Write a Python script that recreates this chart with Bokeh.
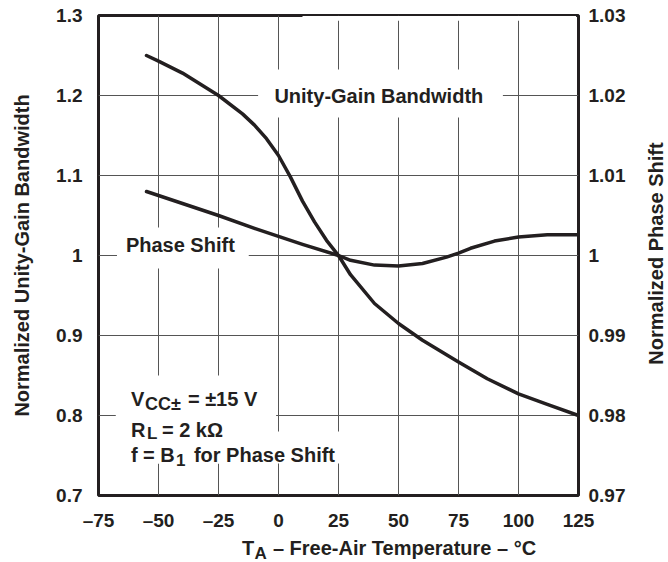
import math
from bokeh.plotting import figure
from bokeh.layouts import row, column
from bokeh.models import (Range1d, LinearAxis, FixedTicker, Label, BoxAnnotation)
from bokeh.embed import file_html
from bokeh.resources import INLINE

# ---------------- data ----------------
ugb_temp = [-55, -50, -40, -25, -15, -10, -5, 0, 5, 10, 15, 20, 25, 30, 40, 50, 60, 75, 87, 100, 112, 125]
ugb_norm = [1.250, 1.243, 1.228, 1.200, 1.177, 1.163, 1.146, 1.125, 1.098, 1.068, 1.042, 1.019,
            1.000, 0.976, 0.940, 0.915, 0.894, 0.867, 0.846, 0.827, 0.814, 0.800]

ps_temp = [-55, -40, -25, -10, 0, 10, 25, 30, 40, 50, 60, 70, 75, 80, 90, 100, 112, 125]
ps_norm = [1.0080, 1.0065, 1.0050, 1.0034, 1.0024, 1.0014, 1.0000, 0.9994, 0.9988, 0.9987,
           0.9990, 0.9998, 1.0003, 1.0009, 1.0018, 1.0023, 1.0026, 1.0026]

x_ticks = [-75, -50, -25, 0, 25, 50, 75, 100, 125]
x_tick_labels = ["\u201375", "\u201350", "\u201325", "0", "25", "50", "75", "100", "125"]
yl_ticks = [0.7, 0.8, 0.9, 1.0, 1.1, 1.2, 1.3]
yl_tick_labels = ["0.7", "0.8", "0.9", "1", "1.1", "1.2", "1.3"]
yr_ticks = [0.97, 0.98, 0.99, 1.0, 1.01, 1.02, 1.03]
yr_tick_labels = ["0.97", "0.98", "0.99", "1", "1.01", "1.02", "1.03"]

FONT = "Liberation Sans"
INK = "#231f20"
GRID = "#555555"

MAIN_W, MAIN_H = 636, 534
p = figure(width=MAIN_W, height=MAIN_H, output_backend="svg", toolbar_location=None,
           x_range=Range1d(-75, 125), y_range=Range1d(0.7, 1.3),
           min_border_left=98, min_border_right=58, min_border_top=15, min_border_bottom=39)
p.extra_y_ranges = {"ps": Range1d(0.97, 1.03)}
p.background_fill_color = "white"
p.border_fill_color = "white"
p.outline_line_color = INK
p.outline_line_width = 3

def style_axis(ax, ticks, labels, standoff):
    ax.ticker = FixedTicker(ticks=ticks)
    ax.major_label_overrides = dict(zip(ticks, labels))
    ax.major_tick_line_color = None
    ax.minor_tick_line_color = None
    ax.major_tick_in = 0
    ax.major_tick_out = 0
    ax.axis_line_color = None
    ax.major_label_standoff = standoff
    ax.major_label_text_font = FONT
    ax.major_label_text_font_style = "bold"
    ax.major_label_text_font_size = "19px"
    ax.major_label_text_color = INK

style_axis(p.xaxis[0], x_ticks, x_tick_labels, 14)
style_axis(p.yaxis[0], yl_ticks, yl_tick_labels, 16)
ya = p.yaxis[0]
ya.axis_label = "Normalized Unity-Gain Bandwidth"
ya.axis_label_standoff = 20
ya.axis_label_text_font = FONT
ya.axis_label_text_font_style = "bold"
ya.axis_label_text_font_size = "20px"
ya.axis_label_text_color = INK

right = LinearAxis(y_range_name="ps")
style_axis(right, yr_ticks, yr_tick_labels, 10)
p.add_layout(right, "right")

p.xgrid.ticker = FixedTicker(ticks=x_ticks)
p.ygrid.ticker = FixedTicker(ticks=yl_ticks)
for g in (p.xgrid[0], p.ygrid[0]):
    g.grid_line_color = GRID
    g.grid_line_width = 1

# white masks behind the in-plot texts (break the grid like the original)
for (l, r_, b, t) in [(-8.5, 93.5, 1.1725, 1.2325),
                      (-67.3, -12.4, 0.98375, 1.035),
                      (-67.8, -1.0, 0.740, 0.850),
                      (-67.8, 28.5, 0.740, 0.780),
                      (10.0, 124.0, 1.2935, 1.2995)]:
    p.add_layout(BoxAnnotation(left=l, right=r_, bottom=b, top=t, fill_color="white",
                               fill_alpha=1.0, line_color=None, level="underlay"))

p.line(ugb_temp, ugb_norm, line_color=INK, line_width=3.5, line_cap="round", line_join="round")
p.line(ps_temp, ps_norm, y_range_name="ps", line_color=INK, line_width=3.5,
       line_cap="round", line_join="round")

def lab(fig, x, y, text, size=20, x_offset=0, align="left", angle=0.0):
    fig.add_layout(Label(x=x, y=y, text=text, x_offset=x_offset,
                         text_font=FONT, text_font_style="bold", text_font_size=f"{size}px",
                         text_color=INK, text_align=align, text_baseline="middle", angle=angle))

lab(p, 41.8, 1.2, "Unity-Gain Bandwidth", align="center")
lab(p, -40.9, 1.0131, "Phase Shift", align="center")

bx = -61.5
lab(p, bx, 0.8204, "V")
lab(p, bx, 0.8150, "CC\u00b1", size=18, x_offset=14)
lab(p, bx, 0.8204, "= \u00b115 V", x_offset=57)
lab(p, bx, 0.7825, "R")
lab(p, bx, 0.7775, "L", size=17, x_offset=16)
lab(p, bx, 0.7825, "= 2 k\u03a9", x_offset=31)
lab(p, bx, 0.75125, "f = B")
lab(p, bx, 0.7450, "1", size=17, x_offset=45)
lab(p, bx, 0.75125, "for Phase Shift", x_offset=63)

# ---- strip below the plot: x-axis title with subscript ----
BOT_H = 562 - MAIN_H
pb = figure(width=MAIN_W, height=BOT_H, output_backend="svg", toolbar_location=None,
            x_range=Range1d(0, MAIN_W), y_range=Range1d(0, BOT_H),
            x_axis_type=None, y_axis_type=None, min_border=0)
pb.outline_line_color = None
pb.background_fill_color = "white"
pb.border_fill_color = "white"
tx = 190
lab(pb, tx, 15, "T")
lab(pb, tx, 9, "A", size=17, x_offset=12.5)
lab(pb, tx, 15, "\u2013 Free-Air Temperature \u2013 \u00b0C", x_offset=31)

# ---- strip at the right: right-axis title ----
RIGHT_W = 668 - MAIN_W
pr = figure(width=RIGHT_W, height=562, output_backend="svg", toolbar_location=None,
            x_range=Range1d(0, RIGHT_W), y_range=Range1d(0, 562),
            x_axis_type=None, y_axis_type=None, min_border=0)
pr.outline_line_color = None
pr.background_fill_color = "white"
pr.border_fill_color = "white"
lab(pr, 19, 309, "Normalized Phase Shift", align="center", angle=math.pi / 2)

layout = row(column(p, pb, spacing=0), pr, spacing=0)
open("out.html", "w").write(file_html(layout, INLINE))
